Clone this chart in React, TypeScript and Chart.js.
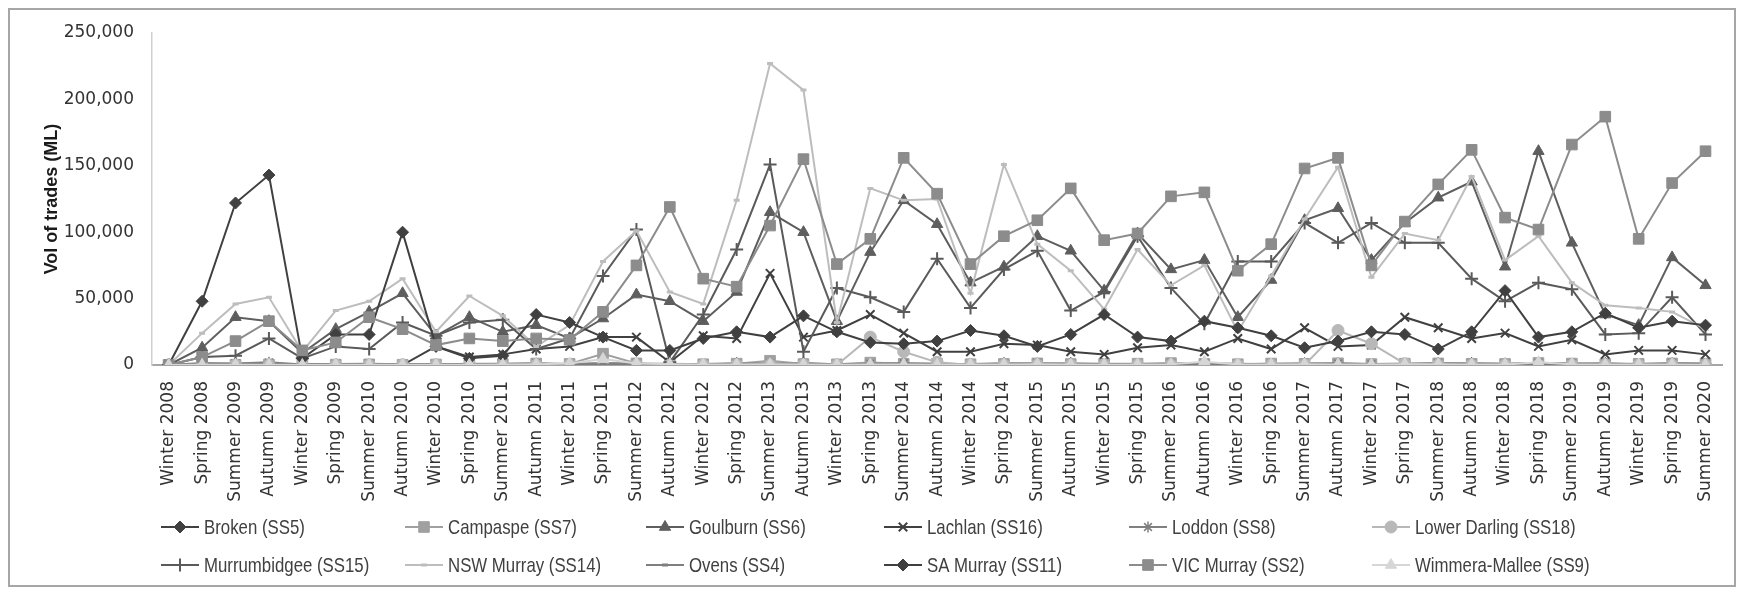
import React, { useEffect, useRef } from 'react';
import { Chart, registerables } from 'chart.js';
import { drawPoint } from 'chart.js/helpers';

Chart.register(...registerables);

// ---------- DATA ----------
const seasons = [
  'Winter 2008', 'Spring 2008', 'Summer 2009', 'Autumn 2009', 'Winter 2009', 'Spring 2009',
  'Summer 2010', 'Autumn 2010', 'Winter 2010', 'Spring 2010', 'Summer 2011', 'Autumn 2011',
  'Winter 2011', 'Spring 2011', 'Summer 2012', 'Autumn 2012', 'Winter 2012', 'Spring 2012',
  'Summer 2013', 'Autumn 2013', 'Winter 2013', 'Spring 2013', 'Summer 2014', 'Autumn 2014',
  'Winter 2014', 'Spring 2014', 'Summer 2015', 'Autumn 2015', 'Winter 2015', 'Spring 2015',
  'Summer 2016', 'Autumn 2016', 'Winter 2016', 'Spring 2016', 'Summer 2017', 'Autumn 2017',
  'Winter 2017', 'Spring 2017', 'Summer 2018', 'Autumn 2018', 'Winter 2018', 'Spring 2018',
  'Summer 2019', 'Autumn 2019', 'Winter 2019', 'Spring 2019', 'Summer 2020',
];

const broken = [
  0, 600, 900, 700, 300, 500, 400, 600, 500, 800,
  700, 900, 600, 1200, 900, 500, 700, 1100, 800, 1300,
  600, 900, 1000, 700, 800, 1100, 900, 1200, 700, 600,
  1000, 900, 800, 700, 1100, 900, 600, 800, 1000, 1200,
  900, 700, 800, 1100, 600, 900, 800,
];
const campaspe = [
  0, 300, 200, 400, 100, 300, 500, 200, 400, 900,
  700, 1100, 800, 8500, 1200, 900, 600, 1000, 3200, 700,
  500, 1800, 900, 1100, 600, 800, 1200, 700, 900, 1000,
  1400, 800, 600, 1100, 900, 1300, 700, 1000, 1200, 900,
  800, 1500, 1100, 700, 900, 1200, 1000,
];
const goulburn = [
  0, 13000, 36000, 33000, 9000, 27000, 40000, 54000, 22000, 36000,
  25000, 30000, 20000, 35000, 53000, 48000, 33000, 55000, 115000, 100000,
  33000, 85000, 124000, 106000, 62000, 74000, 97000, 86000, 56000, 99000,
  72000, 79000, 36000, 64000, 109000, 118000, 79000, 107000, 126000, 138000,
  74000, 161000, 92000, 38000, 30000, 81000, 60000,
];
const lachlan = [
  0, 0, 0, 0, 0, 0, 0, 0, 14000, 6000,
  8000, 12000, 14000, 21000, 21000, 2000, 22000, 20000, 69000, 21000,
  26000, 38000, 24000, 10000, 10000, 16000, 15000, 10000, 8000, 13000,
  15000, 10000, 20000, 12000, 28000, 14000, 15000, 36000, 28000, 20000,
  24000, 14000, 19000, 8000, 11000, 11000, 8000,
];
const loddon = [
  0, 1500, 1200, 2000, 400, 800, 1000, 600, 500, 700,
  900, 1100, 800, 1400, 1000, 700, 600, 900, 1200, 800,
  500, 1000, 1300, 700, 600, 900, 1100, 800, 600, 700,
  1000, 1200, 900, 600, 800, 1100, 700, 900, 1300, 1000,
  800, 1600, 1200, 900, 700, 1400, 1100,
];
const lowerDarling = [
  0, 0, 0, 0, 0, 0, 0, 0, 0, 0,
  0, 0, 0, 0, 0, 0, 0, 0, 0, 0,
  0, 21000, 10000, 2000, 0, 0, 0, 0, 0, 0,
  0, 0, 0, 0, 0, 26000, 16000, 1000, 0, 0,
  0, 0, 0, 0, 0, 0, 0,
];
const murrumbidgee = [
  0, 6000, 7000, 20000, 5000, 14000, 12000, 32000, 22000, 32000,
  34000, 12000, 20000, 67000, 102000, 2000, 38000, 87000, 151000, 10000,
  58000, 51000, 40000, 80000, 43000, 72000, 86000, 41000, 55000, 97000,
  58000, 31000, 78000, 78000, 107000, 92000, 107000, 92000, 92000, 65000,
  48000, 62000, 57000, 23000, 24000, 51000, 23000,
];
const nswMurray = [
  0, 24000, 46000, 51000, 10000, 41000, 48000, 65000, 25000, 52000,
  37000, 14000, 30000, 78000, 101000, 55000, 46000, 124000, 227000, 207000,
  32000, 133000, 124000, 125000, 54000, 151000, 91000, 71000, 42000, 87000,
  60000, 75000, 25000, 67000, 110000, 149000, 66000, 99000, 94000, 142000,
  79000, 97000, 62000, 45000, 43000, 40000, 27000,
];
const ovens = [
  0, 200, 300, 200, 100, 200, 300, 200, 300, 200,
  400, 300, 200, 300, 400, 300, 200, 300, 500, 300,
  200, 400, 300, 200, 300, 400, 300, 200, 300, 400,
  500, 300, 200, 300, 400, 300, 200, 300, 400, 300,
  200, 400, 300, 200, 300, 400, 300,
];
const saMurray = [
  0, 48000, 122000, 143000, 5000, 23000, 23000, 100000, 14000, 5000,
  7000, 38000, 32000, 21000, 11000, 11000, 20000, 25000, 21000, 37000,
  25000, 17000, 16000, 18000, 26000, 22000, 14000, 23000, 38000, 21000,
  18000, 33000, 28000, 22000, 13000, 18000, 25000, 23000, 12000, 25000,
  56000, 21000, 25000, 39000, 28000, 33000, 30000,
];
const vicMurray = [
  0, 6000, 18000, 33000, 11000, 17000, 36000, 27000, 15000, 20000,
  18000, 20000, 19000, 40000, 75000, 119000, 65000, 59000, 105000, 155000,
  76000, 95000, 156000, 129000, 76000, 97000, 109000, 133000, 94000, 99000,
  127000, 130000, 71000, 91000, 148000, 156000, 75000, 108000, 136000, 162000,
  111000, 102000, 166000, 187000, 95000, 137000, 161000,
];
const wimmeraMallee = [
  0, 100, 200, 100, 0, 100, 200, 100, 100, 200,
  300, 500, 1200, 4500, 1200, 600, 400, 300, 500, 300,
  200, 400, 300, 200, 300, 400, 500, 300, 200, 300,
  600, 2500, 400, 300, 500, 400, 300, 600, 500, 400,
  300, 2000, 500, 300, 400, 300, 200,
];

const yTicks = [0, 50000, 100000, 150000, 200000, 250000];

// ---------- STYLES ----------
type SeriesDef = {
  label: string;
  data: number[];
  color: string;
  style: string;
  radius: number;
  pbw: number;
};

const series: SeriesDef[] = [
  { label: 'Broken (SS5)', data: broken, color: '#404040', style: 'rectRot', radius: 6, pbw: 1 },
  { label: 'Campaspe (SS7)', data: campaspe, color: '#a0a0a0', style: 'rect', radius: 7.5, pbw: 1 },
  { label: 'Goulburn (SS6)', data: goulburn, color: '#5e5e5e', style: 'triangle', radius: 6.5, pbw: 1 },
  { label: 'Lachlan (SS16)', data: lachlan, color: '#404040', style: 'crossRot', radius: 6, pbw: 2 },
  { label: 'Loddon (SS8)', data: loddon, color: '#808080', style: 'star', radius: 5.5, pbw: 1.5 },
  { label: 'Lower Darling (SS18)', data: lowerDarling, color: '#b8b8b8', style: 'circle', radius: 6, pbw: 1 },
  { label: 'Murrumbidgee (SS15)', data: murrumbidgee, color: '#5a5a5a', style: 'cross', radius: 6.5, pbw: 2 },
  { label: 'NSW Murray (SS14)', data: nswMurray, color: '#bdbdbd', style: 'line', radius: 3, pbw: 3 },
  { label: 'Ovens (SS4)', data: ovens, color: '#7f7f7f', style: 'line', radius: 3, pbw: 3 },
  { label: 'SA Murray (SS11)', data: saMurray, color: '#404040', style: 'rectRot', radius: 6, pbw: 1 },
  { label: 'VIC Murray (SS2)', data: vicMurray, color: '#8c8c8c', style: 'rect', radius: 7.5, pbw: 1 },
  { label: 'Wimmera-Mallee (SS9)', data: wimmeraMallee, color: '#d6d6d6', style: 'triangle', radius: 6.5, pbw: 1 },
];

const CANVAS_W = 1724;
const CANVAS_H = 575;
const legendColX = [151, 395, 636, 874, 1119, 1362];
const legendRowY = [517, 555];
const legendFont = '21px "Liberation Sans", Arial, sans-serif';
const legendSqueeze = 0.8;

const gridLegend = {
  id: 'gridLegend',
  afterDraw(chart: any) {
    const ctx = chart.ctx as CanvasRenderingContext2D;
    chart.data.datasets.forEach((ds: any, i: number) => {
      const col = i % 6;
      const row = Math.floor(i / 6);
      const x0 = legendColX[col];
      const y = legendRowY[row];
      ctx.save();
      ctx.strokeStyle = ds.borderColor;
      ctx.lineWidth = 2;
      ctx.beginPath();
      ctx.moveTo(x0, y);
      ctx.lineTo(x0 + 38, y);
      ctx.stroke();
      ctx.fillStyle = ds.pointBackgroundColor;
      ctx.strokeStyle = ds.pointBorderColor;
      ctx.lineWidth = ds.pointBorderWidth;
      drawPoint(ctx, { pointStyle: ds.pointStyle, radius: ds.pointRadius, rotation: 0, borderWidth: ds.pointBorderWidth } as any, x0 + 19, y);
      ctx.restore();
      ctx.save();
      ctx.translate(x0 + 43, y + 1);
      ctx.scale(legendSqueeze, 1);
      ctx.fillStyle = '#404040';
      ctx.font = legendFont;
      ctx.textAlign = 'left';
      ctx.textBaseline = 'middle';
      ctx.fillText(ds.label, 0, 0);
      ctx.restore();
    });
  },
};

export default function App() {
  const canvasRef = useRef<HTMLCanvasElement | null>(null);

  useEffect(() => {
    const canvas = canvasRef.current;
    if (!canvas) return;
    const chart = new Chart(canvas, {
      type: 'line',
      data: {
        labels: seasons,
        datasets: series.map((s, i) => ({
          label: s.label,
          data: s.data,
          borderColor: s.color,
          backgroundColor: s.color,
          borderWidth: 2,
          pointStyle: s.style as any,
          pointRadius: s.radius,
          pointHoverRadius: s.radius,
          pointBackgroundColor: s.color,
          pointBorderColor: s.color,
          pointBorderWidth: s.pbw,
          tension: 0,
          fill: false,
          order: -i,
        })),
      },
      options: {
        responsive: false,
        animation: false,
        devicePixelRatio: 1,
        layout: { padding: { top: 23, right: 5, bottom: 0, left: 0 } },
        plugins: {
          legend: { display: false },
          tooltip: { enabled: false },
        },
        scales: {
          x: {
            offset: true,
            grid: { display: false },
            border: { display: true, color: '#a6a6a6', width: 2 },
            ticks: {
              autoSkip: false,
              maxRotation: 90,
              minRotation: 90,
              padding: 8,
              color: '#333333',
              font: { family: 'DejaVu Sans', size: 17 },
            },
            afterFit: (scale: any) => {
              scale.height = 220;
            },
          },
          y: {
            min: 0,
            max: 250000,
            grid: { display: false },
            border: { display: true, color: '#d0d0d0', width: 1.5 },
            afterBuildTicks: (scale: any) => {
              scale.ticks = yTicks.map((v) => ({ value: v }));
            },
            ticks: {
              padding: 10,
              color: '#333333',
              font: { family: 'DejaVu Sans', size: 17 },
              callback: (v: any) => Number(v).toLocaleString('en-US'),
            },
            title: {
              display: true,
              text: 'Vol of trades (ML)',
              color: '#1a1a1a',
              font: { family: 'Liberation Sans', size: 18, weight: 'bold' },
              padding: { top: 31, bottom: 0 },
            },
            afterFit: (scale: any) => {
              scale.width = 142;
            },
          },
        },
      },
      plugins: [gridLegend],
    });
    return () => chart.destroy();
  }, []);

  return (
    <div
      style={{
        position: 'fixed',
        left: 8,
        top: 8,
        width: 1728,
        height: 579,
        boxSizing: 'border-box',
        border: '2px solid #a6a6a6',
        background: '#ffffff',
      }}
    >
      <canvas
        ref={canvasRef}
        width={CANVAS_W}
        height={CANVAS_H}
        style={{ display: 'block', width: CANVAS_W, height: CANVAS_H }}
      />
    </div>
  );
}
